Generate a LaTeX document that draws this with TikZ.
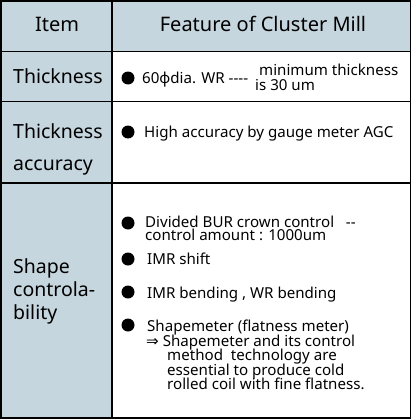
\documentclass[tikz,border=0pt]{standalone}
\usepackage{fontspec}
\setmainfont{Noto Sans}
\newfontfamily\symfont{DejaVu Sans}
\newcommand\hy{\mbox{-}}
\definecolor{hdr}{RGB}{197,214,222}
\begin{document}
\begin{tikzpicture}[x=1pt,y=-1pt,
  grid/.style={line width=1.8pt,black},
  big/.style={inner sep=0pt,anchor=base west,font=\fontsize{19.5}{23}\selectfont},
  bigc/.style={inner sep=0pt,anchor=base,font=\fontsize{20}{23}\selectfont},
  body/.style={inner sep=0pt,anchor=base west,font=\fontsize{15.1}{15}\selectfont},
  dot/.style={circle,fill=black,inner sep=0pt,minimum size=13pt}]
\useasboundingbox (0,0) rectangle (412,420);
\fill[hdr] (1,1) rectangle (411,51.5);
\fill[hdr] (1,51.5) rectangle (112,418);
\draw[grid] (1,1) rectangle (410.5,418);
\draw[grid] (1,51.5) -- (410.5,51.5);
\draw[grid] (1,101.5) -- (410.5,101.5);
\draw[grid] (1,183) -- (410.5,183);
\draw[grid] (112,1) -- (112,418);
% header
\node[bigc] (hItem) at (57,32) {Item};
\node[bigc] (hFeat) at (263,32) {Feature of Cluster Mill};
% left column
\node[big] (l1) at (13,83) {Thickness};
\node[big] (l2a) at (13,138) {Thickness};
\node[big] (l2b) at (13,170) {accuracy};
\node[big] (l3a) at (13,273) {Shape};
\node[big] (l3b) at (13,296) {controla-};
\node[big] (l3c) at (13,319) {bility};
% row 1
\node[dot] (b1) at (128,78) {};
\node[body] (t1) at (142,83) {60ϕdia. WR \hy\hy\hy\hy};
\node[body] (t1a) at (259,75) {minimum thickness};
\node[body] (t1b) at (255,90) {is 30 um};
% row 2
\node[dot] (b2) at (128,132) {};
\node[body] (t2) at (144,137) {High accuracy by gauge meter AGC};
% row 3
\node[dot] (b3) at (128,223) {};
\node[body] (t3a) at (145,227) {Divided BUR crown control \ \ \hy\hy};
\node[body] (t3b) at (145,240) {control amount : 1000um};
\node[dot] (b4) at (128,259) {};
\node[body] (t4) at (147,264) {IMR shift};
\node[dot] (b5) at (128,292) {};
\node[body] (t5) at (147,298) {IMR bending , WR bending};
\node[dot] (b6) at (128,325) {};
\node[body] (t6a) at (147,331) {Shapemeter (flatness meter)};
\node[body] (t6b) at (146,346) {{\symfont ⇒} Shapemeter and its control};
\node[body] (t6c) at (167,360) {method\ \ technology are};
\node[body] (t6d) at (167,375) {essential to produce cold};
\node[body] (t6e) at (167,389) {rolled coil with fine flatness.};
\end{tikzpicture}
\end{document}
